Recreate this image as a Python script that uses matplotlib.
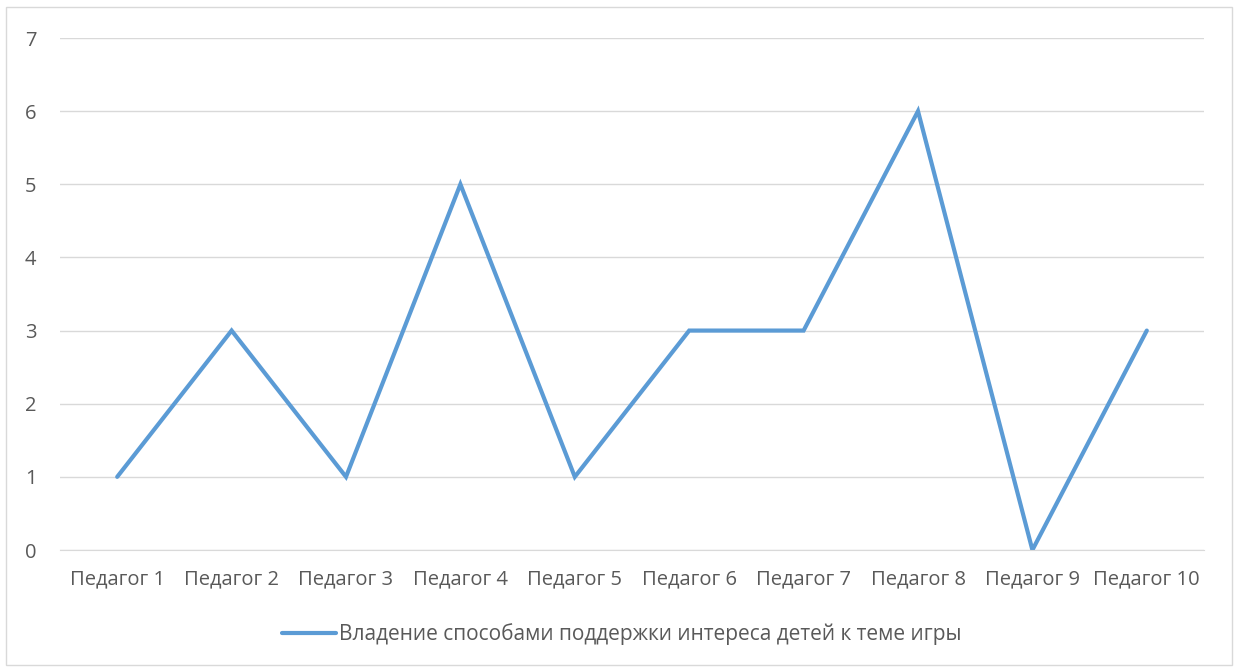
import matplotlib.pyplot as plt
from matplotlib.patches import Rectangle

categories = ['Педагог 1', 'Педагог 2', 'Педагог 3', 'Педагог 4', 'Педагог 5',
              'Педагог 6', 'Педагог 7', 'Педагог 8', 'Педагог 9', 'Педагог 10']
values = [1, 3, 1, 5, 1, 3, 3, 6, 0, 3]
series_name = 'Владение способами поддержки интереса детей к теме игры'

plt.rcParams['font.family'] = ['Open Sans', 'DejaVu Sans']

fig = plt.figure(figsize=(12.41, 6.70), dpi=100)
ax = fig.add_axes([60 / 1241, 1 - 550 / 670, 1144 / 1241, 512 / 670])

x = range(len(categories))
ax.plot(x, values, color='#5B9BD5', lw=3, solid_joinstyle='miter',
        solid_capstyle='round', label=series_name)

ax.set_xlim(-0.5, len(categories) - 0.5)
ax.set_ylim(0, 7)
ax.set_yticks(range(8))
ax.set_xticks(list(x))
ax.set_xticklabels(categories)
ax.grid(axis='y', color='#D9D9D9', lw=1)
ax.set_axisbelow(True)
for s in ['top', 'right', 'left']:
    ax.spines[s].set_visible(False)
ax.spines['bottom'].set_color('#D9D9D9')
ax.tick_params(length=0, labelsize=14.5, colors='#595959')
ax.tick_params(axis='x', pad=14)
ax.tick_params(axis='y', pad=17)

fig.legend(loc='center', bbox_to_anchor=(622 / 1241, 1 - 634 / 670), frameon=False,
           prop={'size': 15}, labelcolor='#595959', handlelength=2.6,
           handletextpad=0.15)

fig.patches.append(Rectangle((6 / 1241, 5 / 670), 1226 / 1241, 658 / 670,
                             transform=fig.transFigure, fill=False,
                             edgecolor='#D9D9D9', lw=1))

fig.savefig('out.png', dpi=100)
